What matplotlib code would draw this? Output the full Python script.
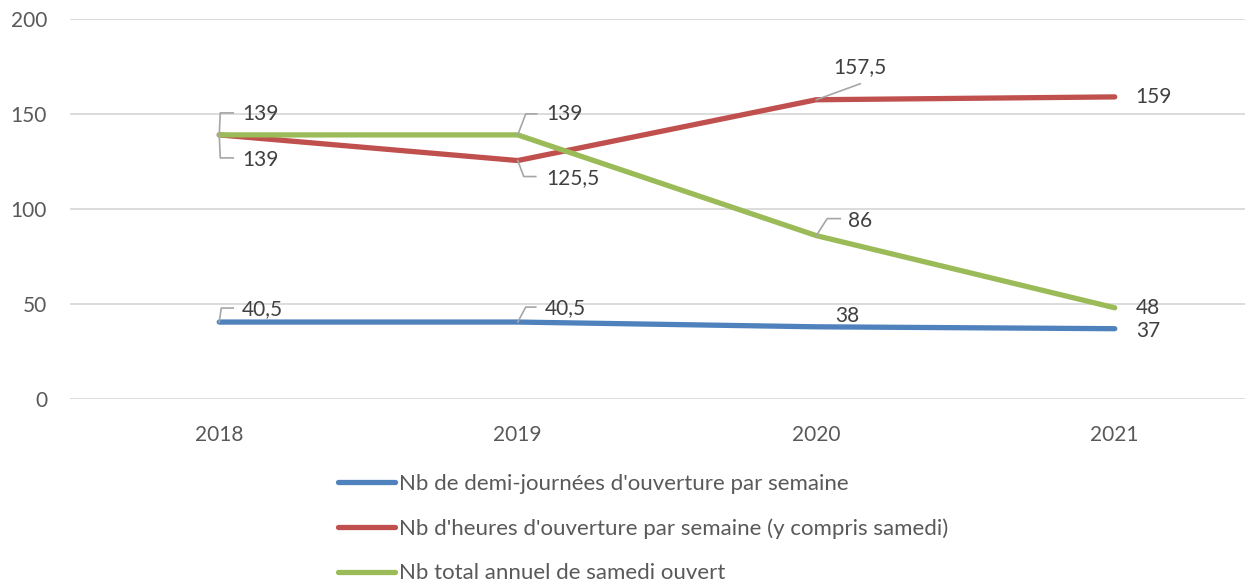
import numpy as np
import matplotlib.pyplot as plt

plt.rcParams['font.family'] = ['Lato', 'DejaVu Sans']

years = ['2018', '2019', '2020', '2021']
demi_journees = [40.5, 40.5, 38, 37]
heures = [139, 125.5, 157.5, 159]
samedis = [139, 139, 86, 48]

series_names = [
    "Nb de demi-journées d'ouverture par semaine",
    "Nb d'heures d'ouverture par semaine (y compris samedi)",
    "Nb total annuel de samedi ouvert",
]
colors = ['#4F81BD', '#C0504D', '#9BBB59']

# label placement in pixels: (text dx, text dy, leader polyline or None)
label_pos = [
    [(23, 13, [(0, 0), (2, 14), (14, 14)]),
     (27, 14, [(0, 0), (8, 15), (18, 15)]),
     (19, 11, None),
     (21, -2, None)],
    [(23, -25, [(0, 0), (1, -23), (14, -23)]),
     (29, -18, [(0, 0), (6, -16), (18, -16)]),
     (17, 33, [(0, 0), (44, 16)]),
     (21, 0, None)],
    [(23, 21, [(0, 0), (1, 22), (14, 22)]),
     (29, 21, [(0, 0), (8, 21), (19, 21)]),
     (32, 15, [(0, 0), (11, 17), (24, 17)]),
     (21, 0, None)],
]

W, H = 1245, 583
fig = plt.figure(figsize=(W / 100, H / 100), dpi=100)
ax = fig.add_axes([70 / W, (H - 399) / H, (W - 70) / W, 380 / H])

x = np.arange(len(years))
for vals, name, col in zip([demi_journees, heures, samedis], series_names, colors):
    ax.plot(x, vals, color=col, lw=3.8, solid_capstyle='round', label=name, zorder=3)

ax.set_xlim(-0.5, -0.5 + (W - 70) / 298.5)
ax.set_ylim(0, 200)
ax.set_yticks([0, 50, 100, 150, 200])
ax.set_xticks(x)
ax.set_xticklabels(years)
ax.grid(axis='y', color='#D9D9D9', lw=1.3)
ax.set_axisbelow(True)
for s in ax.spines.values():
    s.set_visible(False)
ax.tick_params(length=0, labelsize=15, labelcolor='#595959')
ax.tick_params(axis='y', pad=16.5)
ax.tick_params(axis='x', pad=18.5)

# data labels
inv = ax.transData.inverted()
for vals, pos in zip([demi_journees, heures, samedis], label_pos):
    for xi, v, (dx, dy, leader) in zip(x, vals, pos):
        txt = f'{v:g}'.replace('.', ',')
        ax.annotate(txt, (xi, v), xytext=(dx, dy), textcoords='offset pixels',
                    ha='left', va='center', fontsize=15, color='#404040',
                    annotation_clip=False, zorder=5)
        if leader:
            px, py = ax.transData.transform((xi, v))
            pts = inv.transform([(px + ox, py + oy) for ox, oy in leader])
            ax.plot(pts[:, 0], pts[:, 1], color='#A6A6A6', lw=1.2, zorder=4,
                    clip_on=False)

fig.legend(loc='upper left', bbox_to_anchor=(338 / W, 1 - 474 / H),
           frameon=False, fontsize=16, handlelength=2.57, handletextpad=0.18,
           labelspacing=1.1, borderaxespad=0, borderpad=0,
           labelcolor='#595959')

fig.savefig('out.png', dpi=100)
